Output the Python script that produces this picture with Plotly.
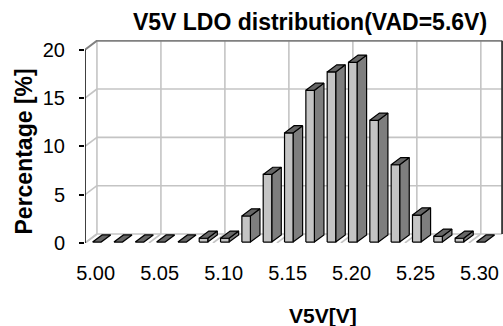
import plotly.graph_objects as go

# Histogram bins of the V5V LDO output (V) and share of parts in each bin (%)
bin_centers = [5.000, 5.017, 5.033, 5.050, 5.067, 5.083, 5.100, 5.117, 5.133, 5.150,
               5.167, 5.183, 5.200, 5.217, 5.233, 5.250, 5.267, 5.283, 5.300]
percentages = [0.0, 0.0, 0.0, 0.0, 0.0, 0.4, 0.4, 2.7, 7.0, 11.3,
               15.7, 17.6, 18.6, 12.6, 8.0, 2.8, 0.6, 0.4, 0.0]
x_tick_labels = ["5.00", "5.05", "5.10", "5.15", "5.20", "5.25", "5.30"]
y_ticks = [0, 5, 10, 15, 20]

# pseudo-3D geometry (depth vector expressed in axis units)
DX, DY = 0.56, 0.93          # wall depth: right in categories, up in percent
BAR_W = 0.40                 # bar front width in category units
F0, F1 = 0.10, 0.90          # bar front / back position as fraction of depth

FRONT = "#c4c4c4"
SIDE = "#7e7e7e"
TOP = "#666666"
GRID = "#c4c4c4"

n = len(bin_centers)
idx = list(range(n))
left_edge, right_edge = -0.5, n - 0.5
y_max = max(y_ticks)

fig = go.Figure()


def line(xs, ys, color, width):
    fig.add_trace(go.Scatter(x=xs, y=ys, mode="lines", cliponaxis=False,
                             line=dict(color=color, width=width),
                             hoverinfo="skip", showlegend=False))


def poly(xs, ys, fill):
    fig.add_trace(go.Scatter(x=xs + [xs[0]], y=ys + [ys[0]], mode="lines",
                             fill="toself", fillcolor=fill, cliponaxis=False,
                             line=dict(color="black", width=1.2),
                             hoverinfo="skip", showlegend=False))


# gridline boundaries sit at the left edge of every labelled category
label_idx = [min(idx, key=lambda i: abs(bin_centers[i] - float(t))) for t in x_tick_labels]
bounds = [i - 0.5 for i in label_idx]

# back wall horizontal gridlines
for v in y_ticks[1:-1]:
    line([left_edge + DX, right_edge + DX], [v + DY, v + DY], GRID, 1.6)
    line([left_edge, left_edge + DX], [v, v + DY], GRID, 1.6)
# back wall vertical gridlines and floor gridlines
for b in bounds:
    line([b + DX, b + DX], [DY, y_max + DY], GRID, 1.6)
    line([b, b + DX], [0, DY], GRID, 1.6)
line([left_edge + DX, right_edge + DX], [DY, DY], GRID, 1.6)
line([left_edge, left_edge + DX], [0, DY], GRID, 1.6)

# wall borders
line([left_edge, left_edge + DX, right_edge + DX], [y_max, y_max + DY, y_max + DY], "#808080", 2)
line([right_edge + DX, right_edge + DX], [y_max + DY, DY], "#3a3a3a", 2)

# bars: front face, side face and top face
for i, v in zip(idx, percentages):
    x0f = i - BAR_W / 2 + F0 * DX
    x1f = i + BAR_W / 2 + F0 * DX
    x0b = i - BAR_W / 2 + F1 * DX
    x1b = i + BAR_W / 2 + F1 * DX
    yf, yb = F0 * DY, F1 * DY
    if v > 0:
        poly([x1f, x1f, x1b, x1b], [yf, v + yf, v + yb, yb], SIDE)
        poly([x0f, x1f, x1f, x0f], [yf, yf, v + yf, v + yf], FRONT)
    poly([x0f, x1f, x1b, x0b], [v + yf, v + yf, v + yb, v + yb], TOP)

# front value axis
line([left_edge, left_edge], [0, y_max], "black", 1.5)

fig.update_layout(
    width=503, height=326,
    margin=dict(l=85, r=0, t=40, b=83),
    paper_bgcolor="white", plot_bgcolor="white",
    font=dict(family="Arial, Liberation Sans, sans-serif", color="black"),
    title=dict(text="<b>V5V LDO distribution(VAD=5.6V)</b>",
               x=310 / 503, xanchor="center", y=1 - 22 / 326, yanchor="middle",
               font=dict(size=23, color="black")),
    xaxis=dict(range=[left_edge, 19.1], showgrid=False, zeroline=False,
               showline=False, ticks="outside", ticklen=12,
               tickcolor="rgba(0,0,0,0)", tickvals=label_idx, ticktext=x_tick_labels,
               tickfont=dict(size=20)),
    yaxis=dict(range=[0, 21], showgrid=False, zeroline=False, showline=False,
               ticks="outside", ticklen=5, tickwidth=1.5, tickcolor="black",
               tickvals=y_ticks, tickfont=dict(size=20), ticklabelstandoff=10),
    annotations=[
        dict(text="<b>Percentage [%]</b>", textangle=-90, showarrow=False,
             xref="paper", yref="paper", x=(23 - 85) / 418, y=(243 - 151.5) / 203,
             xanchor="center", yanchor="middle", font=dict(size=23)),
        dict(text="<b>V5V[V]</b>", showarrow=False,
             xref="paper", yref="paper", x=(323 - 85) / 418, y=(243 - 315) / 203,
             xanchor="center", yanchor="middle", font=dict(size=21)),
    ],
)

fig.write_html("out.html")
